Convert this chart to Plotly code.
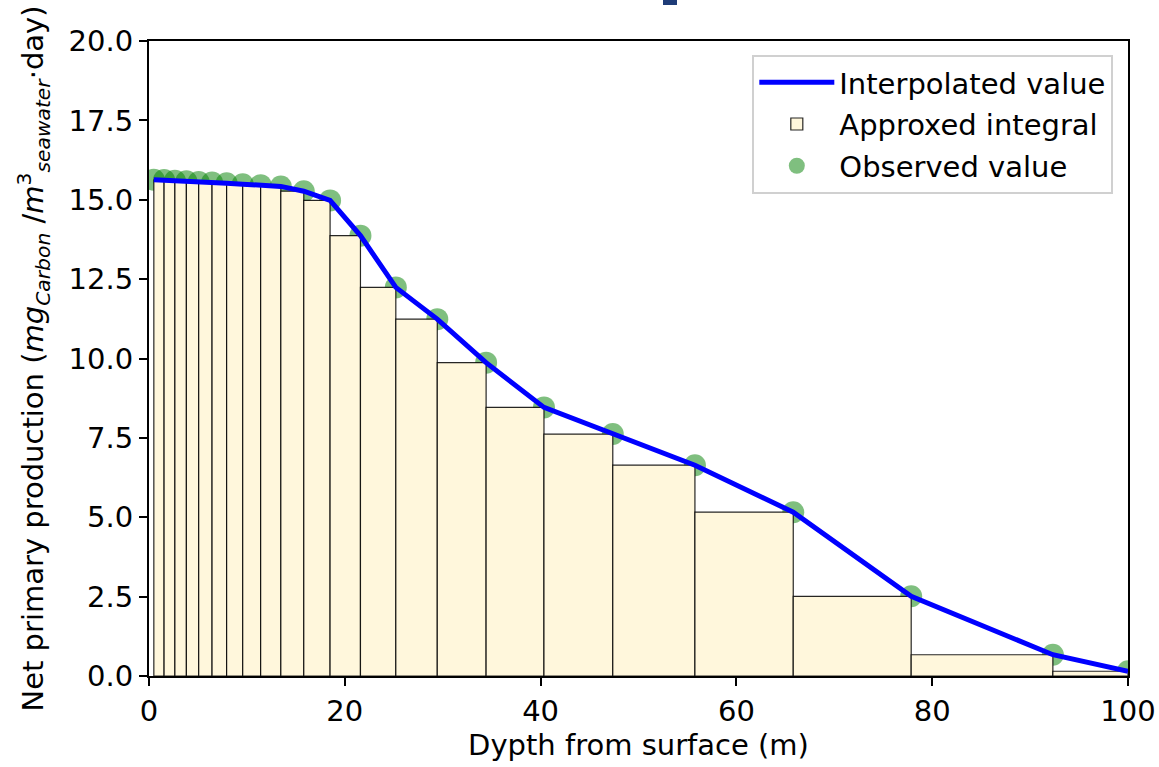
import numpy as np
import plotly.graph_objects as go

depths = [0.494, 1.541, 2.646, 3.819, 5.078, 6.441, 7.93, 9.573, 11.405, 13.467,
          15.81, 18.496, 21.599, 25.211, 29.445, 34.434, 40.344, 47.374, 55.764,
          65.807, 77.854, 92.326, 100.0]
values = [15.63, 15.62, 15.60, 15.58, 15.56, 15.54, 15.52, 15.49, 15.46, 15.42,
          15.27, 14.98, 13.87, 12.24, 11.24, 9.87, 8.46, 7.62, 6.64,
          5.16, 2.51, 0.67, 0.15]

x_ticks = [0, 20, 40, 60, 80, 100]
y_ticks = [0, 2.5, 5, 7.5, 10, 12.5, 15, 17.5, 20]

d = np.array(depths)
v = np.array(values)
left_edges = d[:-1]
widths = np.diff(d)
heights = v[1:]

FONT = "DejaVu Sans"
FS = 29

fig = go.Figure()

# observed dots (drawn underneath bars)
fig.add_trace(go.Scatter(
    x=depths, y=values, mode="markers", name="Observed value",
    marker=dict(size=22, color="rgba(0,128,0,0.5)", line=dict(width=0)),
    xaxis="x", yaxis="y", legendrank=3, legendgroup="c",
))
# approximate integral bars
fig.add_trace(go.Bar(
    x=left_edges, y=heights, width=widths, offset=0, base=0,
    name="Approxed integral",
    marker=dict(color="#fff7dc", line=dict(color="rgba(0,0,0,0.85)", width=1.2)),
    xaxis="x2", yaxis="y2", legendrank=2, legendgroup="b",
))
# interpolated line
fig.add_trace(go.Scatter(
    x=depths, y=values, mode="lines", name="Interpolated value",
    line=dict(color="#0000ff", width=5),
    xaxis="x2", yaxis="y2", legendrank=1, legendgroup="a",
))

axis_common = dict(
    showgrid=False, zeroline=False, showline=True, linecolor="black", linewidth=2,
    mirror=True, ticks="outside", ticklen=8, tickwidth=2, tickcolor="black",
    tickfont=dict(family=FONT, size=FS, color="black"), automargin=False,
)

fig.update_layout(
    width=1159, height=767,
    margin=dict(l=149, r=31, t=41, b=91),
    paper_bgcolor="white", plot_bgcolor="white",
    font=dict(family=FONT, size=FS, color="black"),
    barmode="overlay",
    xaxis=dict(range=[0, 100], tickvals=x_ticks, ticktext=[str(t) for t in x_ticks],
               title=dict(text="Dypth from surface (m)", font=dict(family=FONT, size=FS), standoff=6),
               **axis_common),
    yaxis=dict(range=[0, 20], tickvals=y_ticks, ticktext=[f"{t:.1f}" for t in y_ticks],
               title=dict(text="Net primary production (<i>mg</i><sub><i>Carbon</i></sub> /<i>m</i><sup>3</sup><sub><i>seawater</i></sub>·day)",
                          font=dict(family=FONT, size=FS), standoff=16),
               **axis_common),
    xaxis2=dict(range=[0, 100], overlaying="x", visible=False),
    yaxis2=dict(range=[0, 20], overlaying="y", visible=False),
    legend=dict(x=0.985, y=0.978, xanchor="right", yanchor="top",
                bgcolor="rgba(255,255,255,0.8)", bordercolor="#d0d0d0", borderwidth=2,
                font=dict(family=FONT, size=FS), itemwidth=75, tracegroupgap=1),
    showlegend=True,
    shapes=[dict(type="rect", xref="paper", yref="paper", x0=0.525, x1=0.5393,
                 y0=1.0567, y1=1.07, fillcolor="#1e3c78", line=dict(width=0), layer="above")],
)

fig.write_html("out.html", config={"displayModeBar": False},
               post_script="document.body.style.margin='0px';")
